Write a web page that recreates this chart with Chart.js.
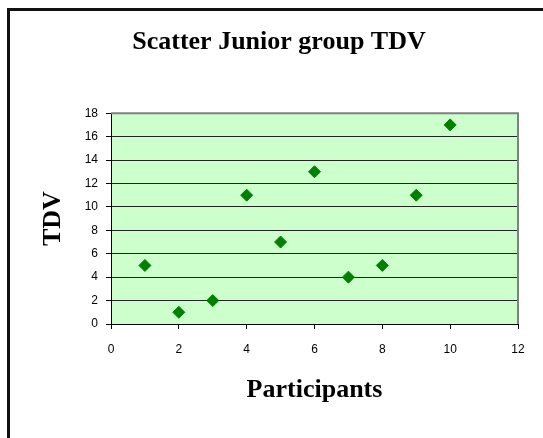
<!DOCTYPE html>
<html>
<head>
<meta charset="utf-8">
<script src="https://cdn.jsdelivr.net/npm/chart.js@4/dist/chart.umd.min.js"></script>
<style>
  html, body { margin: 0; padding: 0; background: #fff; }
  #wrap { position: relative; width: 543px; height: 438px; overflow: hidden; }
  #frame { position: absolute; left: 7px; top: 8px; width: 600px; height: 500px;
           border-left: 3px solid #111; border-top: 3px solid #111; box-sizing: border-box; }
  #c { position: absolute; left: 0; top: 0; }
</style>
</head>
<body>
<div id="wrap">
  <div id="frame"></div>
  <canvas id="c" width="543" height="438"></canvas>
</div>
<script>
// ---- data ----
const chartTitle = 'Scatter Junior group TDV';
const xTitle = 'Participants';
const yTitle = 'TDV';
const participants = [1, 2, 3, 4, 5, 6, 7, 8, 9, 10];
const tdv = [5, 1, 2, 11, 7, 13, 4, 5, 11, 17];
const xTicks = [0, 2, 4, 6, 8, 10, 12];
const yTicks = [0, 2, 4, 6, 8, 10, 12, 14, 16, 18];

const points = participants.map((p, i) => ({ x: p, y: tdv[i] }));

const plotBg = {
  id: 'plotBg',
  beforeDraw(chart) {
    const { ctx, chartArea: a } = chart;
    ctx.save();
    ctx.fillStyle = '#CCFFCC';
    ctx.fillRect(a.left, a.top, a.right - a.left, a.bottom - a.top);
    ctx.restore();
  },
  beforeDatasetsDraw(chart) {
    const { ctx, chartArea: a } = chart;
    ctx.save();
    ctx.strokeStyle = '#808080';
    ctx.lineWidth = 2;
    ctx.beginPath();
    ctx.moveTo(a.left, a.top);
    ctx.lineTo(a.right, a.top);
    ctx.lineTo(a.right, a.bottom);
    ctx.stroke();
    ctx.restore();
  }
};

new Chart(document.getElementById('c'), {
  type: 'scatter',
  data: {
    datasets: [{
      data: points,
      pointStyle: 'rectRot',
      pointRadius: 6,
      pointBorderWidth: 1,
      backgroundColor: '#008000',
      borderColor: '#008000'
    }]
  },
  options: {
    responsive: false,
    animation: false,
    layout: { padding: { left: 15, right: 0, top: 0, bottom: 0 } },
    plugins: {
      legend: { display: false },
      tooltip: { enabled: false },
      title: {
        display: true,
        text: chartTitle,
        color: '#000',
        font: { family: 'Liberation Serif', size: 26, weight: 'bold' },
        padding: { top: 27, bottom: 55 }
      }
    },
    scales: {
      x: {
        type: 'linear',
        min: xTicks[0],
        max: xTicks[xTicks.length - 1],
        afterBuildTicks: s => { s.ticks = xTicks.map(v => ({ value: v })); },
        afterFit: s => { s.height = 114; },
        grid: { drawOnChartArea: false, drawTicks: true, tickLength: 5, color: '#000', tickColor: '#000' },
        border: { display: true, color: '#000', width: 1 },
        ticks: { color: '#000', padding: 13, maxRotation: 0, font: { family: 'Liberation Sans', size: 12 } },
        title: {
          display: true, text: xTitle, color: '#000',
          font: { family: 'Liberation Serif', size: 26, weight: 'bold' },
          padding: { top: 0, bottom: 32 }
        }
      },
      y: {
        type: 'linear',
        min: yTicks[0],
        max: yTicks[yTicks.length - 1],
        afterBuildTicks: s => { s.ticks = yTicks.map(v => ({ value: v })); },
        afterFit: s => { s.width = 96; },
        grid: { drawOnChartArea: true, drawTicks: true, tickLength: 5, color: '#222', tickColor: '#000' },
        border: { display: true, color: '#000', width: 1 },
        ticks: { color: '#000', padding: 8, font: { family: 'Liberation Sans', size: 12 } },
        title: {
          display: true, text: yTitle, color: '#000',
          font: { family: 'Liberation Serif', size: 26, weight: 'bold' },
          padding: { top: 23, bottom: 0 }
        }
      },
      yR: {
        type: 'linear',
        position: 'right',
        display: true,
        grid: { display: false },
        border: { display: false },
        ticks: { display: false },
        afterFit: s => { s.width = 25; }
      }
    }
  },
  plugins: [plotBg]
});
</script>
</body>
</html>
